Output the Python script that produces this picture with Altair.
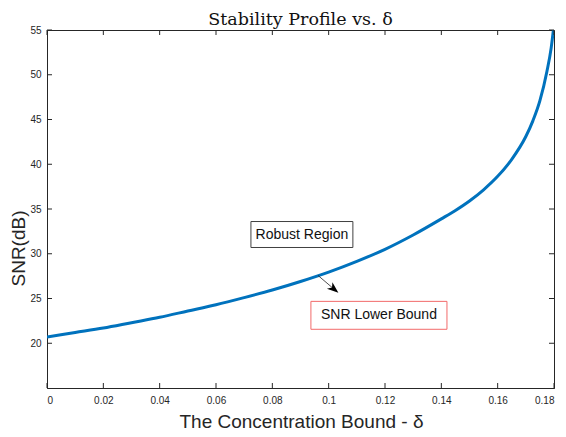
import altair as alt
import pandas as pd

# ---- data ----
delta = [0, 0.01, 0.02, 0.03, 0.04, 0.05, 0.06, 0.07, 0.08, 0.09, 0.10, 0.11,
         0.12, 0.13, 0.14, 0.145, 0.15, 0.155, 0.16, 0.165, 0.17, 0.1725,
         0.175, 0.1775, 0.179, 0.18]
snr = [20.7, 21.2, 21.7, 22.3, 22.9, 23.6, 24.3, 25.1, 25.95, 26.9, 27.95, 29.15,
       30.5, 32.1, 33.9, 34.84, 35.9, 37.15, 38.65, 40.55, 43.1, 44.85,
       47.1, 50.4, 53.0, 55.6]

x_ticks = [0, 0.02, 0.04, 0.06, 0.08, 0.10, 0.12, 0.14, 0.16, 0.18]
y_ticks = [20, 25, 30, 35, 40, 45, 50, 55]

title_text = ["Stability Profile vs. δ"]

# annotation boxes (data coordinates)
box_labels = ["Robust Region", "SNR Lower Bound"]
box_x1 = [0.0724, 0.0937]
box_x2 = [0.1086, 0.1420]
box_y1 = [30.7, 21.56]
box_y2 = [33.6, 24.68]
box_stroke = ["#404040", "#f26a6a"]

# arrow (data coordinates)
arrow_x = [0.0962]
arrow_y = [27.58]
arrow_x2 = [0.1019]
arrow_y2 = [26.05]

W, H = 507, 358
AX = "#262626"

curve = pd.DataFrame({"delta": delta, "snr": snr})
xt = pd.DataFrame({"v": x_ticks})
yt = pd.DataFrame({"v": y_ticks})
boxes = pd.DataFrame({
    "label": box_labels, "x1": box_x1, "x2": box_x2, "y1": box_y1, "y2": box_y2,
    "xc": [(a + b) / 2 for a, b in zip(box_x1, box_x2)],
    "yc": [(a + b) / 2 for a, b in zip(box_y1, box_y2)],
    "stroke": box_stroke,
})
arrow = pd.DataFrame({"x": arrow_x, "y": arrow_y, "x2": arrow_x2, "y2": arrow_y2})
ttl = pd.DataFrame({"t": title_text})

xscale = alt.Scale(domain=[0, 0.18], nice=False, zero=False)
yscale = alt.Scale(domain=[15, 55], nice=False, zero=False)

line = alt.Chart(curve).mark_line(
    color="#0072BD", strokeWidth=3, interpolate="monotone", clip=True
).encode(
    x=alt.X("delta:Q", scale=xscale,
            axis=alt.Axis(values=x_ticks, format=".2~f",
                          title="The Concentration Bound - δ",
                          titleX=254, titleY=39, titleBaseline="alphabetic")),
    y=alt.Y("snr:Q", scale=yscale,
            axis=alt.Axis(values=y_ticks, title="SNR(dB)",
                          titleX=-23, titleY=218, titleAngle=270,
                          titleBaseline="alphabetic")),
)

tick_b = alt.Chart(xt).mark_rule(color=AX, strokeWidth=1).encode(
    x=alt.X("v:Q", scale=xscale), y=alt.value(H), y2=alt.value(H - 5))
tick_t = alt.Chart(xt).mark_rule(color=AX, strokeWidth=1).encode(
    x=alt.X("v:Q", scale=xscale), y=alt.value(0), y2=alt.value(5))
tick_l = alt.Chart(yt).mark_rule(color=AX, strokeWidth=1).encode(
    y=alt.Y("v:Q", scale=yscale), x=alt.value(0), x2=alt.value(5))
tick_r = alt.Chart(yt).mark_rule(color=AX, strokeWidth=1).encode(
    y=alt.Y("v:Q", scale=yscale), x=alt.value(W), x2=alt.value(W - 5))

rects = alt.Chart(boxes).mark_rect(fill="white", strokeWidth=1).encode(
    x=alt.X("x1:Q", scale=xscale), x2="x2:Q",
    y=alt.Y("y1:Q", scale=yscale), y2="y2:Q",
    stroke=alt.Stroke("stroke:N", scale=None),
)
texts = alt.Chart(boxes).mark_text(
    font="Liberation Sans", fontSize=14, color="#111111"
).encode(
    x=alt.X("xc:Q", scale=xscale), y=alt.Y("yc:Q", scale=yscale), text="label:N"
)

arrow_line = alt.Chart(arrow).mark_rule(color="#222222", strokeWidth=0.8).encode(
    x=alt.X("x:Q", scale=xscale), y=alt.Y("y:Q", scale=yscale),
    x2="x2:Q", y2="y2:Q")
arrow_head = alt.Chart(arrow).mark_point(
    shape="M0,-1 L0.75,1 L0,0.45 L-0.75,1 Z", filled=True, color="black",
    size=130, angle=130, opacity=1
).encode(x=alt.X("x2:Q", scale=xscale), y=alt.Y("y2:Q", scale=yscale))

title_mark = alt.Chart(ttl).mark_text(
    font="DejaVu Serif", fontSize=17.5, color="#111111",
    align="center", baseline="alphabetic"
).encode(x=alt.value(W / 2), y=alt.value(-5), text="t:N")

chart = alt.layer(
    line, tick_b, tick_t, tick_l, tick_r, rects, texts, arrow_line, arrow_head,
    title_mark
).properties(
    width=W, height=H,
    autosize=alt.AutoSizeParams(type="none"),
    padding={"left": 39, "top": 22, "right": 4, "bottom": 47},
).configure_view(
    stroke=AX, strokeWidth=1
).configure_axis(
    grid=False, ticks=False, domainColor=AX, domainWidth=1,
    labelFont="Liberation Sans", labelFontSize=10, labelColor=AX,
    titleFont="Liberation Sans", titleFontSize=19, titleFontWeight="normal",
    titleColor=AX,
).configure_axisX(
    labelPadding=7
).configure_axisY(
    labelPadding=6
)

chart.save("out.html", embed_options={"renderer": "svg", "actions": False})
